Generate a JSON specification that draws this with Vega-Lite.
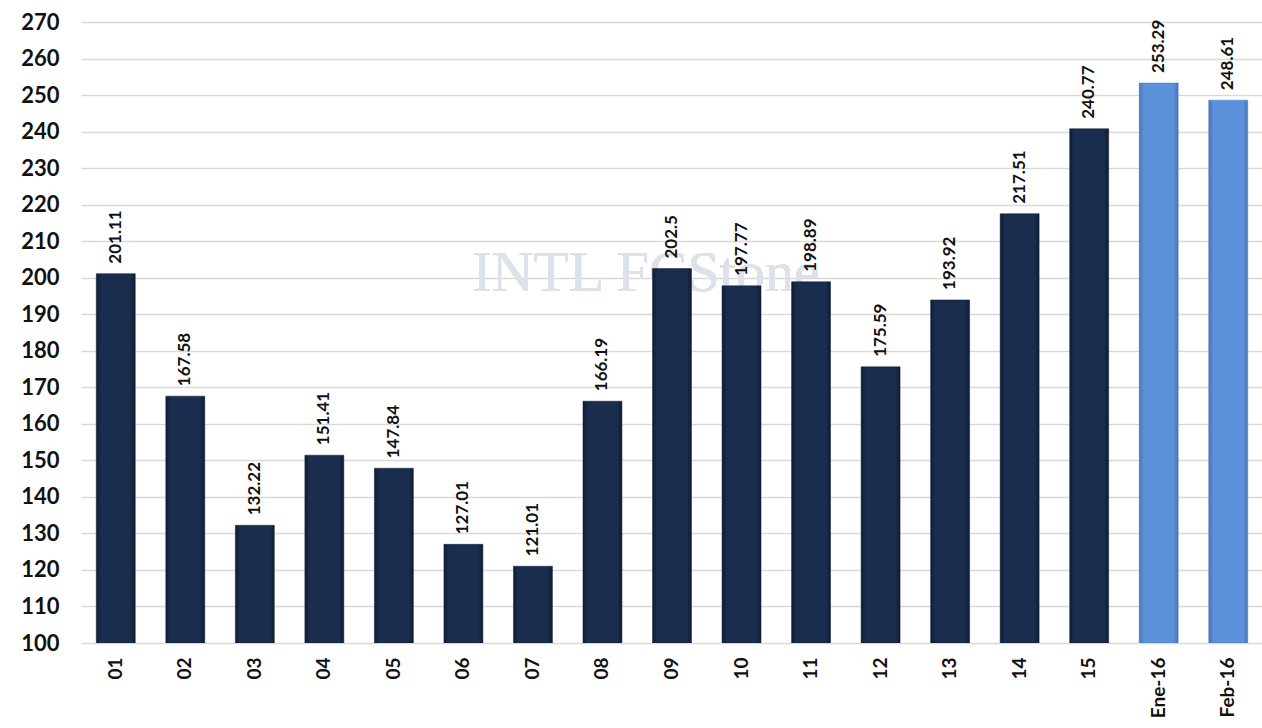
{
  "$schema": "https://vega.github.io/schema/vega-lite/v6.json",
  "width": 1182,
  "height": 621,
  "autosize": {"type": "none"},
  "padding": {"left": 81, "top": 22, "right": 0, "bottom": 85},
  "background": "white",
  "config": {"view": {"stroke": null}, "font": "Lato"},
  "data": {
    "values": [
      {"period": "01", "value": 201.11, "kind": "hist"},
      {"period": "02", "value": 167.58, "kind": "hist"},
      {"period": "03", "value": 132.22, "kind": "hist"},
      {"period": "04", "value": 151.41, "kind": "hist"},
      {"period": "05", "value": 147.84, "kind": "hist"},
      {"period": "06", "value": 127.01, "kind": "hist"},
      {"period": "07", "value": 121.01, "kind": "hist"},
      {"period": "08", "value": 166.19, "kind": "hist"},
      {"period": "09", "value": 202.5, "kind": "hist"},
      {"period": "10", "value": 197.77, "kind": "hist"},
      {"period": "11", "value": 198.89, "kind": "hist"},
      {"period": "12", "value": 175.59, "kind": "hist"},
      {"period": "13", "value": 193.92, "kind": "hist"},
      {"period": "14", "value": 217.51, "kind": "hist"},
      {"period": "15", "value": 240.77, "kind": "hist"},
      {"period": "Ene-16", "value": 253.29, "kind": "month"},
      {"period": "Feb-16", "value": 248.61, "kind": "month"}
    ]
  },
  "encoding": {
    "x": {
      "field": "period", "type": "ordinal", "sort": null,
      "scale": {
        "domain": ["01","02","03","04","05","06","07","08","09","10","11","12","13","14","15","Ene-16","Feb-16"],
        "paddingInner": 0.44, "paddingOuter": 0.22
      },
      "axis": {
        "title": null, "labelAngle": -90, "labelFontSize": 19, "labelFontWeight": "bold",
        "labelColor": "#111111", "labelPadding": 14, "ticks": false, "domain": false,
        "labelBaseline": "middle", "labelAlign": "right"
      }
    },
    "y": {
      "field": "value", "type": "quantitative",
      "scale": {"domain": [100, 270], "nice": false, "zero": false},
      "axis": {
        "title": null, "values": [100,110,120,130,140,150,160,170,180,190,200,210,220,230,240,250,260,270],
        "labelFontSize": 22, "labelFontWeight": "bold", "labelColor": "#111111",
        "labelPadding": 22, "ticks": false, "domain": false,
        "gridColor": "#d9d9d9", "gridWidth": 1.5
      }
    }
  },
  "layer": [
    {
      "mark": {"type": "text", "text": "INTL FCStone", "font": "Liberation Serif", "fontSize": 58, "fontWeight": "normal", "color": "#dde2ea", "dx": -26, "baseline": "middle"},
      "encoding": {"x": {"datum": "09"}, "y": {"datum": 201}}
    },
    {
      "transform": [{"filter": "datum.kind === 'hist'"}],
      "mark": {
        "type": "bar", "clip": true,
        "color": {"gradient": "linear", "x1": 0, "x2": 1, "y1": 0, "y2": 0,
          "stops": [{"offset": 0, "color": "#0f1c33"}, {"offset": 0.12, "color": "#1a2d4e"}, {"offset": 0.88, "color": "#1a2d4e"}, {"offset": 1, "color": "#0f1c33"}]},
        "stroke": "#0d1a30", "strokeWidth": 0.5
      },
      "encoding": {"y2": {"datum": 100}}
    },
    {
      "transform": [{"filter": "datum.kind === 'month'"}],
      "mark": {
        "type": "bar", "clip": true,
        "color": {"gradient": "linear", "x1": 0, "x2": 1, "y1": 0, "y2": 0,
          "stops": [{"offset": 0, "color": "#4a74b0"}, {"offset": 0.12, "color": "#5c91dc"}, {"offset": 0.88, "color": "#5c91dc"}, {"offset": 1, "color": "#4a74b0"}]},
        "stroke": "#4a74b0", "strokeWidth": 0.5
      },
      "encoding": {"y2": {"datum": 100}}
    },
    {
      "mark": {"type": "text", "angle": 270, "align": "left", "baseline": "middle", "dx": 10, "fontSize": 17, "fontWeight": "bold", "color": "#111111"},
      "encoding": {"text": {"field": "value", "type": "quantitative", "format": ".2~f"}}
    }
  ]
}
